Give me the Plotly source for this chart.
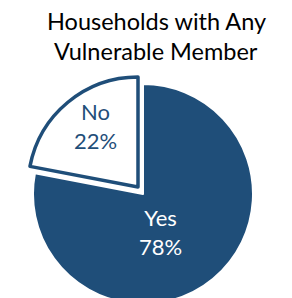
import plotly.graph_objects as go

# ---- data ----
labels = ["Yes", "No"]
values = [78, 22]
title_lines = ["Households with Any", "Vulnerable Member"]

DARK = "#1F4E79"
W, H = 292, 298
FONT = "Lato"
OFF = 8  # page body margin: screen position = figure position + OFF

def fx(sx):  # screen x -> paper x
    return (sx - OFF) / W

def fy(sy):  # screen y (from top) -> paper y
    return 1 - (sy - OFF) / H

# pie geometry (screen pixels)
cx, cy, r = 143, 194, 110
shift = (-5, -7)               # offset of the exploded "No" slice

def dom(dx=0.0, dy=0.0):
    return dict(x=[fx(cx + dx - r), fx(cx + dx + r)],
                y=[max(0, fy(cy + dy + r)), min(1, fy(cy + dy - r))])

fig = go.Figure()

fig.add_trace(go.Pie(
    labels=labels, values=values, sort=False, direction="clockwise", rotation=0,
    domain=dom(),
    marker=dict(colors=[DARK, "rgba(0,0,0,0)"],
                line=dict(color=["white", "rgba(0,0,0,0)"], width=[2, 0])),
    textinfo="none", hoverinfo="label+percent", showlegend=False,
))

fig.add_trace(go.Pie(
    labels=labels, values=values, sort=False, direction="clockwise", rotation=0,
    domain=dom(shift[0], shift[1]),
    marker=dict(colors=["rgba(0,0,0,0)", "white"],
                line=dict(color=["rgba(0,0,0,0)", DARK], width=[0, 3.5])),
    textinfo="none", hoverinfo="label+percent", showlegend=False,
))

label_pos = {"Yes": (160, 232), "No": (95, 126)}
label_col = {"Yes": "white", "No": DARK}
total = sum(values)

annotations = []
for lab, val in zip(labels, values):
    px, py = label_pos[lab]
    annotations.append(dict(
        text=f"{lab}<br>{round(100 * val / total)}%", x=fx(px), y=fy(py),
        xref="paper", yref="paper", xanchor="center", yanchor="middle",
        showarrow=False, font=dict(family=FONT, size=22, color=label_col[lab])))

for i, line in enumerate(title_lines):
    annotations.append(dict(
        text=line, x=fx(156), y=fy(21 + 30 * i), xref="paper", yref="paper",
        xanchor="center", yanchor="middle", showarrow=False,
        font=dict(family=FONT, size=23.5, color="black")))

fig.update_layout(
    width=W, height=H,
    margin=dict(l=0, r=0, t=0, b=0),
    paper_bgcolor="white", plot_bgcolor="white",
    annotations=annotations,
)

fig.write_html("out.html")
